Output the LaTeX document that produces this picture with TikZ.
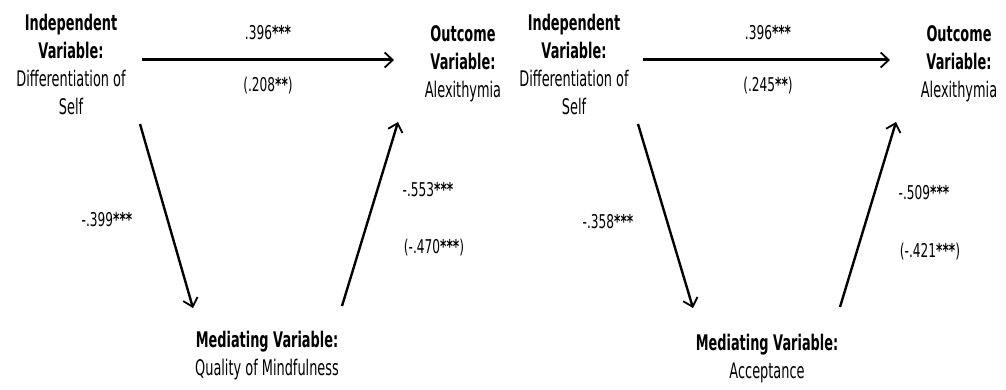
\documentclass[tikz,border=0pt]{standalone}
\usepackage{fontspec}
\setmainfont[FakeStretch=0.6]{DejaVu Sans}
\newfontfamily\numfont[FakeStretch=0.64]{DejaVu Sans}
\usetikzlibrary{arrows.meta}
\tikzset{
  lbl/.style={font=\fontsize{21.5}{28}\selectfont, align=center, inner sep=0pt},
  num/.style={font=\numfont\fontsize{19}{24}\selectfont, inner sep=0pt},
  mainarrow/.style={line width=3pt, -{Straight Barb[length=8pt,width=15pt,line width=1.8pt]}},
  diagarrow/.style={line width=2.4pt, -{Straight Barb[length=8pt,width=15pt,line width=1.8pt]}}
}
\newcommand{\stars}[1]{\textbf{#1}}
\begin{document}
\begin{tikzpicture}[x=1pt,y=-1pt]
\useasboundingbox (0,0) rectangle (1006,390);
% ---------- left panel ----------
\node[lbl] (ivA) at (71,64) {\textbf{Independent}\\\textbf{Variable:}\\Differentiation of\\Self};
\node[lbl] (dvA) at (463,64) {\textbf{Outcome}\\\textbf{Variable:}\\Alexithymia};
\node[lbl] (mvA) at (267,356) {\textbf{Mediating Variable:}\\Quality of Mindfulness};
\coordinate (cA) at (142,60);
\coordinate (cAe) at (394,60);
\coordinate (aAs) at (140,124);
\coordinate (aAe) at (193,308);
\coordinate (bAs) at (342,306);
\coordinate (bAe) at (398,122);
\draw[mainarrow] (cA) -- (cAe);
\draw[diagarrow] (aAs) -- (aAe);
\draw[diagarrow] (bAs) -- (bAe);
\node[num] (cA1) at (268,33) {.396\stars{***}};
\node[num] (cA2) at (268,86) {(.208\stars{**})};
\node[num] (aA1) at (107,220) {-.399\stars{***}};
\node[num] (bA1) at (428,190) {-.553\stars{***}};
\node[num] (bA2) at (434,248) {(-.470\stars{***})};
% ---------- right panel ----------
\node[lbl] (ivB) at (574,64) {\textbf{Independent}\\\textbf{Variable:}\\Differentiation of\\Self};
\node[lbl] (dvB) at (959,64) {\textbf{Outcome}\\\textbf{Variable:}\\Alexithymia};
\node[lbl] (mvB) at (767,359) {\textbf{Mediating Variable:}\\Acceptance};
\coordinate (cB) at (643,60);
\coordinate (cBe) at (890,60);
\coordinate (aBs) at (638,124);
\coordinate (aBe) at (693,308);
\coordinate (bBs) at (840,307);
\coordinate (bBe) at (896,122);
\draw[mainarrow] (cB) -- (cBe);
\draw[diagarrow] (aBs) -- (aBe);
\draw[diagarrow] (bBs) -- (bBe);
\node[num] (cB1) at (768,33) {.396\stars{***}};
\node[num] (cB2) at (768,86) {(.245\stars{**})};
\node[num] (aB1) at (608,222) {-.358\stars{***}};
\node[num] (bB1) at (924,193) {-.509\stars{***}};
\node[num] (bB2) at (930,252) {(-.421\stars{***})};
\end{tikzpicture}
\end{document}
